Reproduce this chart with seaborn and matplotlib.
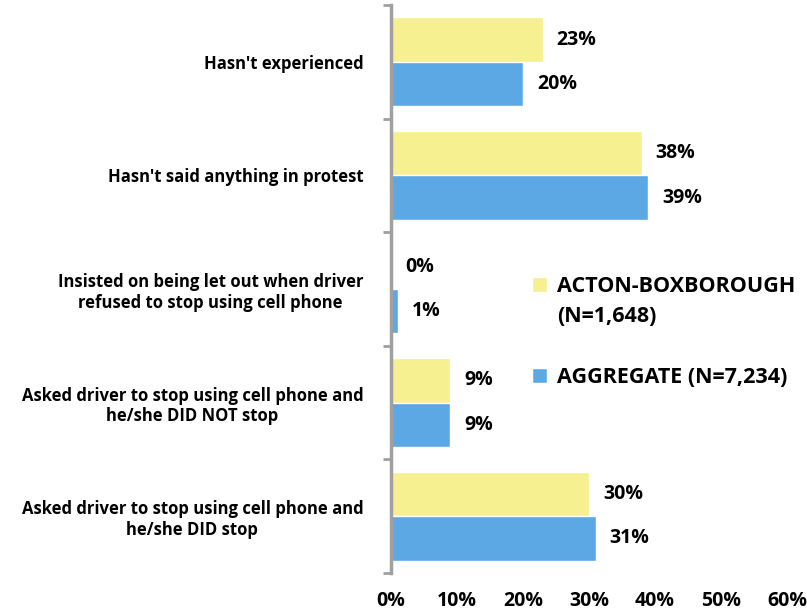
import matplotlib
matplotlib.use("Agg")
import matplotlib.pyplot as plt
import matplotlib.ticker as mticker
import seaborn as sns
import pandas as pd
import numpy as np

categories = [
    "Hasn't experienced",
    "Hasn't said anything in protest",
    "Insisted on being let out when driver\nrefused to stop using cell phone",
    "Asked driver to stop using cell phone and\nhe/she DID NOT stop",
    "Asked driver to stop using cell phone and\nhe/she DID stop",
]
series_names = ["ACTON-BOXBOROUGH\n(N=1,648)", "AGGREGATE (N=7,234)"]
acton = [23, 38, 0, 9, 30]
aggregate = [20, 39, 1, 9, 31]
xticks = [0, 10, 20, 30, 40, 50, 60]

df = pd.DataFrame({
    "category": categories * 2,
    "series": [series_names[0]] * len(categories) + [series_names[1]] * len(categories),
    "value": acton + aggregate,
})

sns.set_style("white")
plt.rcParams["font.family"] = ["Open Sans", "DejaVu Sans"]
plt.rcParams["text.color"] = "black"
plt.rcParams["xtick.color"] = "black"
plt.rcParams["ytick.color"] = "black"

fig = plt.figure(figsize=(8.07, 6.13), dpi=100)
ax = fig.add_axes([391 / 807, 1 - 573 / 613, (787 - 391) / 807, (573 - 5) / 613])

sns.barplot(data=df, y="category", x="value", hue="series", orient="h",
            palette=["#f7f090", "#5ca8e5"], width=0.78, saturation=1,
            ax=ax, legend=True)

# value labels
for cont in ax.containers:
    ax.bar_label(cont, labels=[f"{v:.0f}%" for v in cont.datavalues],
                 padding=10, fontsize=14, fontweight="bold", color="black")

ax.set_xlim(0, 60)
ax.set_ylim(len(categories) - 0.5, -0.5)
ax.set_xticks(xticks)
ax.xaxis.set_major_formatter(mticker.FuncFormatter(lambda v, p: f"{v:.0f}%"))
ax.tick_params(axis="x", length=0, pad=13, labelsize=14, labelcolor="black")
for t in ax.get_xticklabels():
    t.set_fontweight("bold")

ax.set_yticks(range(len(categories)))
ax.set_yticklabels(categories, fontsize=12, fontweight="bold", multialignment="center")
ax.tick_params(axis="y", which="major", left=False, length=0, pad=20, labelcolor="black")
ax.set_yticks(np.arange(-0.5, len(categories)), minor=True)
ax.tick_params(axis="y", which="minor", left=True, length=6, width=2,
               color="#a0a0a0", direction="out")

ax.set_xlabel("")
ax.set_ylabel("")
for side in ["top", "right", "bottom"]:
    ax.spines[side].set_visible(False)
ax.spines["left"].set_color("#a0a0a0")
ax.spines["left"].set_linewidth(2.5)

handles, labels = ax.get_legend_handles_labels()
leg = ax.legend(handles, labels, loc="upper left", bbox_to_anchor=(513 / 807, 1 - 257 / 613),
                bbox_transform=fig.transFigure, frameon=False,
                prop={"size": 15.5, "weight": "bold"}, handlelength=0.7, handleheight=0.7,
                handletextpad=0.45, labelspacing=1.85)
for t in leg.get_texts():
    t.set_linespacing(1.55)
    t.set_color("black")
# keep the yellow square next to the first line of its two-line label
first_patch = leg.legend_handles[0]
first_patch.set_y(first_patch.get_y() + 13)

fig.savefig("out.png", dpi=100)
